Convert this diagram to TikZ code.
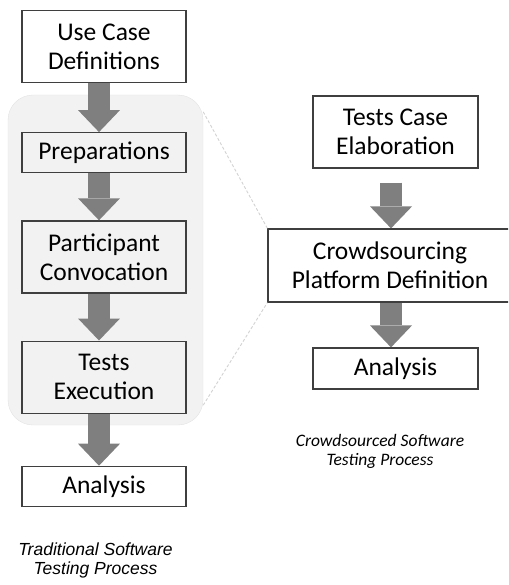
\documentclass[tikz,border=0pt]{standalone}
\usepackage{fontspec}
\setmainfont{Carlito}
\newfontfamily\arialfont{Liberation Sans}
\usetikzlibrary{arrows.meta, positioning}

\definecolor{arrowgray}{HTML}{7F7F7F}
\definecolor{boxline}{HTML}{3F3F3F}
\definecolor{zonefill}{HTML}{F2F2F2}

\begin{document}
\begin{tikzpicture}[
    x=1pt, y=-1pt,
    stagebox/.style={draw=boxline, line width=1.2pt, align=center, inner sep=0pt,
                     font=\fontsize{25.5}{29}\selectfont, minimum width=164pt},
    tall/.style={minimum height=72pt},
    short/.style={minimum height=40pt},
    zone/.style={fill=zonefill, draw=gray!22, rounded corners=25pt,
                 minimum width=195pt, minimum height=330pt},
    block/.style={line width=22pt, draw=arrowgray,
                  -{Triangle[length=22pt, width=42pt, line width=0pt]}},
    zoomline/.style={draw=gray!35, dashed, dash pattern=on 3pt off 2pt, line width=0.9pt},
    caption/.style={align=center, inner sep=0pt},
]
    \clip (0,0) rectangle (508,585);

    %==================== traditional process ====================
    \node[zone] (zone) at (105.5,260) {};

    \node[stagebox, tall] (usecase) at (104,46.5) {Use Case\\Definitions};
    \node[stagebox, short, below=49pt of usecase] (prep) {Preparations};
    \node[stagebox, tall, below=47pt of prep] (convoc) {Participant\\Convocation};
    \node[stagebox, tall, below=47pt of convoc] (exec) {Tests\\Execution};
    \node[stagebox, short, below=52pt of exec] (analysisL) {Analysis};

    \draw[block] ([xshift=-5pt]usecase.south) -- ([xshift=-5pt]prep.north);
    \draw[block] ([xshift=-5pt]prep.south) -- ([xshift=-5pt]convoc.north);
    \draw[block] ([xshift=-5pt]convoc.south) -- ([xshift=-5pt]exec.north);
    \draw[block] ([xshift=-5pt]exec.south) -- ([xshift=-5pt]analysisL.north);

    \node[caption, font=\arialfont\itshape\fontsize{17.5}{19}\selectfont] (capL) at (95.5,560)
        {Traditional Software\\Testing Process};

    %==================== crowdsourced process ====================
    \node[stagebox, tall, minimum width=165pt] (elab) at (395.5,132) {Tests Case\\Elaboration};
    \node[stagebox, tall, minimum width=244pt, minimum height=73pt] (platform) at (390,265.5)
        {Crowdsourcing\\Platform Definition};
    \node[stagebox, short, minimum width=165pt, minimum height=41pt] (analysisR) at (395.5,368.5)
        {Analysis};

    \draw[block] ([xshift=-4.5pt, yshift=-14pt]elab.south) -- ([xshift=-4.5pt]elab.south |- platform.north);
    \draw[block] ([xshift=1pt]platform.south) -- ([xshift=1pt]platform.south |- analysisR.north);

    \node[caption, font=\itshape\fontsize{17.5}{19}\selectfont] (capR) at (380,451)
        {Crowdsourced Software\\Testing Process};

    %==================== zoom lines ====================
    \draw[zoomline] ([yshift=-17pt]zone.north east) -- (platform.north west);
    \draw[zoomline] ([yshift=20pt]zone.south east) -- (platform.south west);

\end{tikzpicture}
\end{document}
